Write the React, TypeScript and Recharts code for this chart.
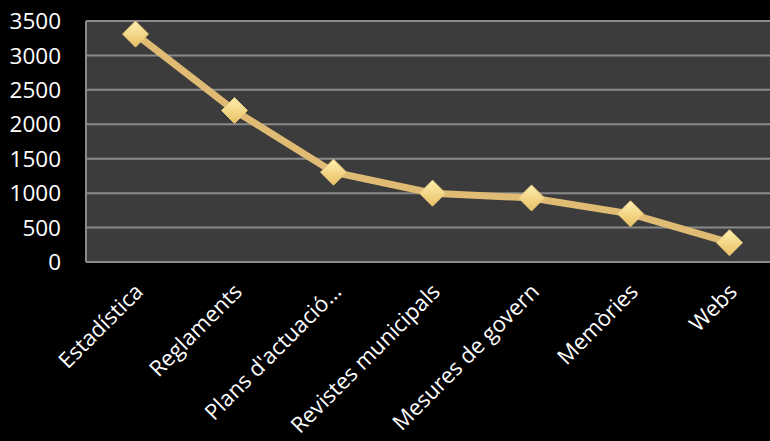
import React from 'react';
import { LineChart, Line, XAxis, YAxis, CartesianGrid } from 'recharts';

const categories = ['Estadística', 'Reglaments', "Plans d'actuació…", 'Revistes municipals', 'Mesures de govern', 'Memòries', 'Webs'];
const values = [3310, 2200, 1305, 1000, 930, 700, 280];
const yTicks = [0, 500, 1000, 1500, 2000, 2500, 3000, 3500];

const data = categories.map((name, i) => ({ name, value: values[i] }));

const FONT = '"Open Sans", sans-serif';

const YTick = (props: any) => {
  const { y, payload } = props;
  return (
    <text x={61} y={y} dy="0.36em" textAnchor="end" fill="#ffffff" fontSize={22.5} fontFamily={FONT}>
      {payload.value}
    </text>
  );
};

const XTick = (props: any) => {
  const { x, payload } = props;
  return (
    <g transform={`translate(${x + 9}, 293)`}>
      <text transform="rotate(-45)" textAnchor="end" fill="#ffffff" fontSize={22} fontFamily={FONT}>
        {payload.value}
      </text>
    </g>
  );
};

const Diamond = (props: any) => {
  const { cx, cy } = props;
  if (cx == null || cy == null) return null;
  const r = 13;
  return (
    <polygon
      key={`d-${cx}`}
      points={`${cx},${cy - r} ${cx + r},${cy} ${cx},${cy + r} ${cx - r},${cy}`}
      fill="url(#diamondFill)"
      stroke="#e6c77e"
      strokeWidth={1}
    />
  );
};

export default function App() {
  return (
    <div style={{ position: 'absolute', left: 0, top: 0, width: 770, height: 441, overflow: 'hidden', background: '#000' }}>
      <LineChart width={779} height={441} data={data} margin={{ top: 21, right: 0, bottom: 0, left: 0 }}>
        <defs>
          <linearGradient id="diamondFill" x1="0" y1="0" x2="0" y2="1">
            <stop offset="0%" stopColor="#fff0b0" />
            <stop offset="100%" stopColor="#e9bf63" />
          </linearGradient>
        </defs>
        <CartesianGrid vertical={false} fill="#3c3c3c" stroke="#8a8a8a" strokeWidth={2} />
        <XAxis
          dataKey="name"
          height={179}
          padding={{ left: 49.5, right: 49.5 }}
          axisLine={{ stroke: '#8a8a8a', strokeWidth: 2 }}
          tickLine={false}
          tick={<XTick />}
          interval={0}
        />
        <YAxis
          width={86}
          domain={[0, 3500]}
          ticks={yTicks}
          axisLine={{ stroke: '#8a8a8a', strokeWidth: 2 }}
          tickLine={false}
          tick={<YTick />}
        />
        <Line
          type="linear"
          dataKey="value"
          stroke="#dfbb74"
          strokeWidth={7}
          dot={<Diamond />}
          activeDot={false}
          isAnimationActive={false}
        />
      </LineChart>
    </div>
  );
}
